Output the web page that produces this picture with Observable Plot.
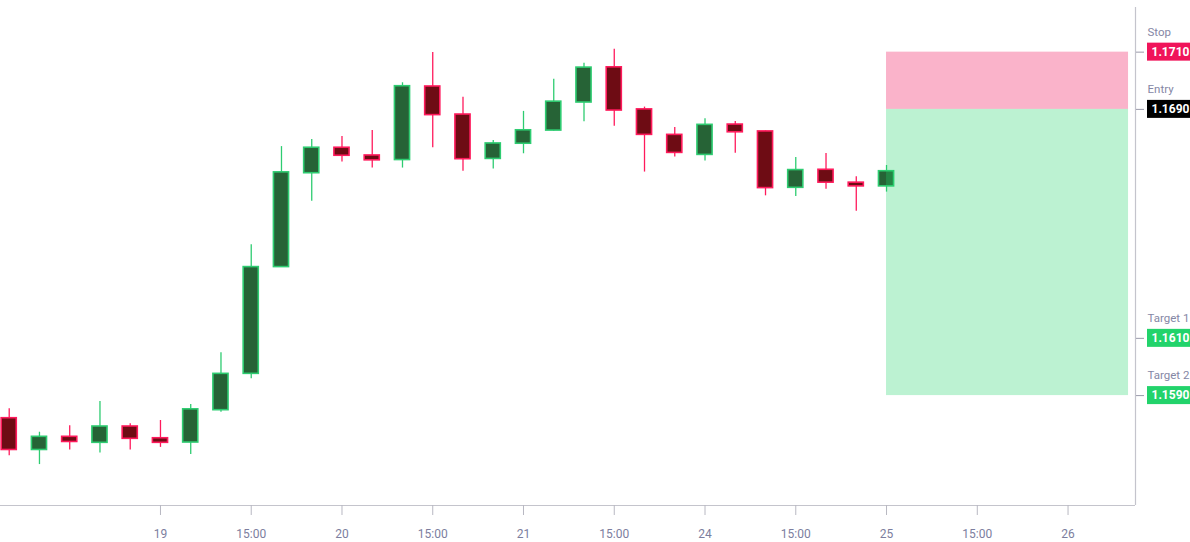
<!DOCTYPE html>
<html>
<head>
<meta charset="utf-8">
<script src="https://cdn.jsdelivr.net/npm/d3@7"></script>
<script src="https://cdn.jsdelivr.net/npm/@observablehq/plot@0.6"></script>
<style>
  html, body { margin: 0; padding: 0; background: #ffffff; }
  #chart { width: 1190px; height: 542px; overflow: hidden; }
  svg { font-family: Roboto, "Noto Sans", sans-serif; }
</style>
</head>
<body>
<div id="chart"></div>
<script>
// 4-hour candles, one per index
const opens  = [1.15821,1.15710,1.15756,1.15735,1.15792,1.15751,1.15736,1.15849,1.15976,1.16349,1.16677,1.16766,1.16739,1.16723,1.16980,1.16882,1.16727,1.16780,1.16826,1.16924,1.17047,1.16900,1.16811,1.16741,1.16847,1.16823,1.16626,1.16689,1.16644,1.16631];
const highs  = [1.15854,1.15772,1.15795,1.15879,1.15802,1.15813,1.15869,1.16050,1.16427,1.16770,1.16795,1.16805,1.16826,1.16993,1.17099,1.16942,1.16791,1.16893,1.17005,1.17061,1.17110,1.16908,1.16837,1.16867,1.16858,1.16825,1.16732,1.16746,1.16665,1.16704];
const lows   = [1.15690,1.15659,1.15710,1.15699,1.15710,1.15719,1.15694,1.15842,1.15959,1.16349,1.16579,1.16716,1.16695,1.16695,1.16766,1.16684,1.16692,1.16745,1.16824,1.16857,1.16841,1.16681,1.16734,1.16720,1.16747,1.16598,1.16596,1.16621,1.16544,1.16611];
const closes = [1.15710,1.15756,1.15738,1.15792,1.15749,1.15735,1.15852,1.15976,1.16349,1.16680,1.16766,1.16738,1.16722,1.16981,1.16880,1.16726,1.16781,1.16827,1.16927,1.17046,1.16896,1.16811,1.16748,1.16846,1.16820,1.16625,1.16688,1.16644,1.16631,1.16684];

// x-axis ticks (candle index) and their labels
const tickIndex  = [5, 8, 11, 14, 17, 20, 23, 26, 29, 32, 35];
const tickLabels = ["19", "15:00", "20", "15:00", "21", "15:00", "24", "15:00", "25", "15:00", "26"];

// trade levels
const levelNames  = ["Stop", "Entry", "Target 1", "Target 2"];
const levelPrices = [1.1710, 1.1690, 1.1610, 1.1590];
const levelColors = ["#f0145a", "#000000", "#22d36b", "#22d36b"];

// position box
const boxStart = 29, boxEnd = 37;

const candles = opens.map((o, i) => ({
  i, open: o, high: highs[i], low: lows[i], close: closes[i], up: closes[i] >= o
}));
const levels = levelNames.map((n, k) => ({name: n, price: levelPrices[k], color: levelColors[k]}));

const xMin = -0.288, xMax = 37.23;
const yMin = 1.15516, yMax = 1.17256;

const upFill = "#266336", upStroke = "#2ecc71";
const dnFill = "#6e0c14", dnStroke = "#ff1a5c";

const chart = Plot.plot({
  width: 1190,
  height: 542,
  marginLeft: 0,
  marginRight: 55,
  marginTop: 7,
  marginBottom: 37,
  style: {fontFamily: "Roboto, 'Noto Sans', sans-serif", background: "#ffffff", overflow: "visible"},
  x: {type: "linear", domain: [xMin, xMax], axis: null, label: null},
  y: {type: "linear", domain: [yMin, yMax], axis: null, label: null},
  marks: [
    // wicks
    Plot.ruleX(candles, {x: "i", y1: "low", y2: "high", stroke: d => d.up ? upStroke : dnStroke, strokeWidth: 1.3}),
    // bodies
    Plot.rect(candles, {
      x1: d => d.i - 0.25, x2: d => d.i + 0.25,
      y1: "open", y2: "close",
      fill: d => d.up ? upFill : dnFill,
      stroke: d => d.up ? upStroke : dnStroke,
      strokeWidth: 1.6
    }),
    // position box: risk and reward zones
    Plot.rect([levels[0]], {x1: boxStart, x2: boxEnd, y1: levelPrices[1], y2: levelPrices[0], fill: "#f0145a", fillOpacity: 0.32}),
    Plot.rect([levels[1]], {x1: boxStart, x2: boxEnd, y1: levelPrices[3], y2: levelPrices[1], fill: "#22d36b", fillOpacity: 0.3}),
    // frame lines (bottom and right)
    Plot.ruleY([yMin], {stroke: "#c4c4cc", strokeWidth: 1.2}),
    Plot.ruleX([xMax], {stroke: "#c4c4cc", strokeWidth: 1.2}),
    // x axis
    Plot.axisX({
      anchor: "bottom", ticks: tickIndex, label: null,
      tickFormat: d => tickLabels[tickIndex.indexOf(d)],
      tickSize: 10, tickPadding: 14, stroke: "#b8b8c2", color: "#7c7e9e", fontSize: 12
    }),
    // right level ticks
    Plot.axisY({anchor: "right", ticks: levelPrices, label: null, tickFormat: () => "", tickSize: 8, stroke: "#9a9aaa"}),
    // level label boxes
    Plot.rect(levels, {
      x1: xMax, x2: xMax, y1: "price", y2: "price",
      dx: 12, insetRight: -60, insetTop: -9, insetBottom: -9,
      fill: "color"
    }),
    Plot.text(levels, {x: xMax, y: "price", text: d => d.price.toFixed(4), dx: 16, textAnchor: "start", fill: "white", fontWeight: "bold", fontSize: 12}),
    Plot.text(levels, {x: xMax, y: "price", text: "name", dx: 12, dy: -20, textAnchor: "start", fill: "#8587a5", fontSize: 11.5})
  ]
});
document.getElementById("chart").appendChild(chart);
</script>
</body>
</html>
